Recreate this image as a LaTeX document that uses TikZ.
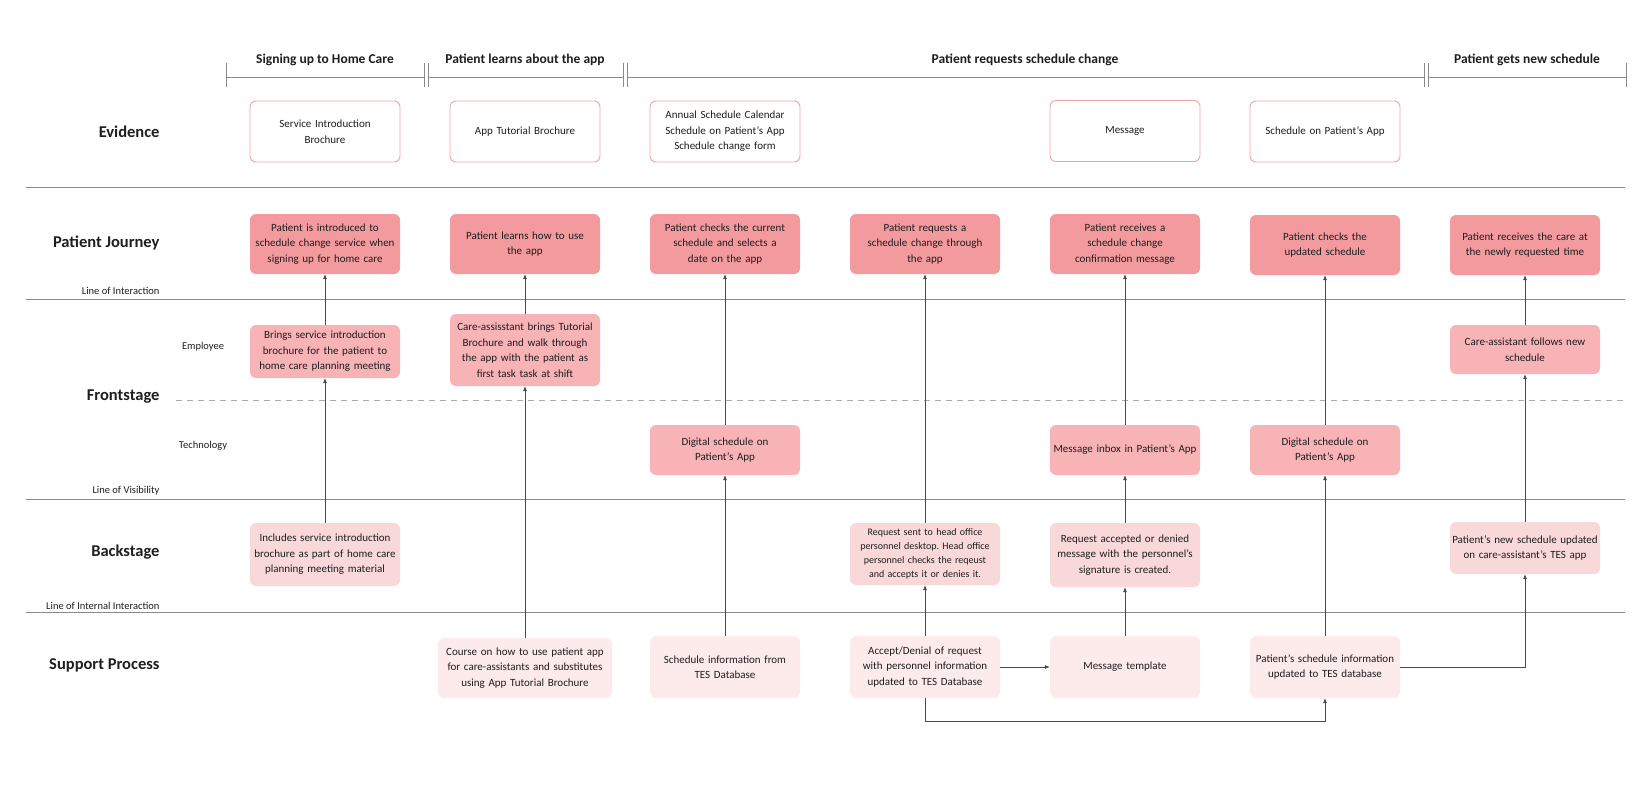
\documentclass[tikz,border=0pt]{standalone}
\usepackage{fontspec}
\setmainfont{Carlito}
\usetikzlibrary{arrows.meta}
\definecolor{jour}{HTML}{F39A9E}
\definecolor{empc}{HTML}{F7B3B6}
\definecolor{backc}{HTML}{F9D8DA}
\definecolor{suppc}{HTML}{FDEAEB}
\definecolor{evb}{HTML}{F2A3A8}
\definecolor{rulec}{HTML}{8A8A8A}
\definecolor{dashc}{HTML}{ABABAB}
\definecolor{txt}{HTML}{1E1E1E}
\definecolor{arrc}{HTML}{4A4A4A}
\frenchspacing
\begin{document}
\begin{tikzpicture}[x=1pt,y=-1pt,
  box/.style={rounded corners=6pt, minimum width=150pt, text width=148pt, align=center,
    font=\fontsize{11}{15.5}\selectfont, text=txt, inner xsep=1pt, inner ysep=3pt},
  evid/.style={box, draw=evb, line width=0.9pt, fill=white},
  jbox/.style={box, fill=jour},
  ebox/.style={box, fill=empc},
  bbox/.style={box, fill=backc},
  sbox/.style={box, fill=suppc},
  rowlab/.style={anchor=east, font=\bfseries\fontsize{16.5}{18}\selectfont, text=txt},
  linelab/.style={anchor=east, font=\fontsize{10.5}{12}\selectfont, text=txt},
  sublab/.style={font=\fontsize{10.5}{12}\selectfont, text=txt},
  phase/.style={font=\bfseries\fontsize{13.5}{15}\selectfont, text=txt},
  rulel/.style={draw=rulec, line width=0.8pt},
  arr/.style={draw=arrc, line width=0.6pt, -{Latex[length=5pt,width=4pt]}}
]
\useasboundingbox (0,0) rectangle (1650,800);

% header brackets
\foreach \a/\b in {226/424, 428/623, 627/1424, 1428/1626}{
  \draw[rulel] (\a,77) -- (\b,77);
  \draw[rulel] (\a,63) -- (\a,87);
  \draw[rulel] (\b,63) -- (\b,87);
}
\node[phase] (p1) at (325,60) {Signing up to Home Care};
\node[phase] (p2) at (525,60) {Patient learns about the app};
\node[phase] (p3) at (1025,60) {Patient requests schedule change};
\node[phase] (p4) at (1527,60) {Patient gets new schedule};

% horizontal lines
\draw[rulel] (26,187) -- (1625,187);
\draw[rulel] (26,299) -- (1625,299);
\draw[draw=dashc, line width=0.8pt, dash pattern=on 6pt off 5pt] (176,400) -- (1625,400);
\draw[rulel] (26,499) -- (1625,499);
\draw[rulel] (26,612) -- (1625,612);

% row labels
\node[rowlab] (lEv) at (163,132) {Evidence};
\node[rowlab] (lPJ) at (163,243) {Patient Journey};
\node[linelab] (lLI) at (163,291) {Line of Interaction};
\node[sublab] (lEm) at (203,347) {Employee};
\node[rowlab] (lFr) at (163,397) {Frontstage};
\node[sublab] (lTe) at (203,446) {Technology};
\node[linelab] (lLV) at (163,491) {Line of Visibility};
\node[rowlab] (lBa) at (163,552) {Backstage};
\node[linelab] (lLII) at (163,606) {Line of Internal Interaction};
\node[rowlab] (lSP) at (163,665) {Support Process};

% evidence
\node[evid, minimum height=61pt] (v1) at (325,131.5) {Service Introduction\\Brochure};
\node[evid, minimum height=61pt] (v2) at (525,131.5) {App Tutorial Brochure};
\node[evid, minimum height=61pt] (v3) at (725,131.5) {Annual Schedule Calendar\\Schedule on Patient’s App\\Schedule change form};
\node[evid, minimum height=61pt] (v5) at (1125,131) {Message};
\node[evid, minimum height=61pt] (v6) at (1325,131.5) {Schedule on Patient’s App};

% patient journey
\node[jbox, minimum height=60pt] (j1) at (325,244) {Patient is introduced to\\schedule change service when\\signing up for home care};
\node[jbox, minimum height=60pt] (j2) at (525,244) {Patient learns how to use\\the app};
\node[jbox, minimum height=60pt] (j3) at (725,244) {Patient checks the current\\schedule and selects a\\date on the app};
\node[jbox, minimum height=60pt] (j4) at (925,244) {Patient requests a\\schedule change through\\the app};
\node[jbox, minimum height=60pt] (j5) at (1125,244) {Patient receives a\\schedule change\\confirmation message};
\node[jbox, minimum height=60pt] (j6) at (1325,245) {Patient checks the\\updated schedule};
\node[jbox, minimum height=60pt] (j7) at (1525,245) {Patient receives the care at\\the newly requested time};

% employee
\node[ebox, minimum height=53pt] (e1) at (325,351.5) {Brings service introduction\\brochure for the patient to\\home care planning meeting};
\node[ebox, minimum height=72pt] (e2) at (525,350) {Care-assisstant brings Tutorial\\Brochure and walk through\\the app with the patient as\\first task task at shift};
\node[ebox, minimum height=49pt] (e7) at (1525,349.5) {Care-assistant follows new\\schedule};

% technology
\node[ebox, minimum height=50pt] (t3) at (725,450) {Digital schedule on\\Patient’s App};
\node[ebox, minimum height=50pt] (t5) at (1125,450) {Message inbox in Patient’s App};
\node[ebox, minimum height=50pt] (t6) at (1325,450) {Digital schedule on\\Patient’s App};

% backstage
\node[bbox, minimum height=63pt] (b1) at (325,554.5) {Includes service introduction\\brochure as part of home care\\planning meeting material};
\node[bbox, minimum height=62pt, font=\fontsize{10}{14}\selectfont] (b4) at (925,554) {Request sent to head office\\personnel desktop. Head office\\personnel checks the reqeust\\and accepts it or denies it.};
\node[bbox, minimum height=64pt] (b5) at (1125,555) {Request accepted or denied\\message with the personnel’s\\signature is created.};
\node[bbox, minimum height=52pt] (b7) at (1525,548) {Patient’s new schedule updated\\on care-assistant’s TES app};

% support
\node[sbox, minimum height=60pt, minimum width=174pt, text width=172pt] (s2) at (525,668) {Course on how to use patient app\\for care-assistants and substitutes\\using App Tutorial Brochure};
\node[sbox, minimum height=62pt] (s3) at (725,667) {Schedule information from\\TES Database};
\node[sbox, minimum height=62pt] (s4) at (925,667) {Accept/Denial of request\\with personnel information\\updated to TES Database};
\node[sbox, minimum height=62pt] (s5) at (1125,667) {Message template};
\node[sbox, minimum height=62pt] (s6) at (1325,667) {Patient’s schedule information\\updated to TES database};

% connectors
\draw[arr] (b1.north) -- (e1.south);
\draw[arr] (e1.north) -- (j1.south);
\draw[arr] (s2.north) -- (e2.south);
\draw[arr] (e2.north) -- (j2.south);
\draw[arr] (s3.north) -- (t3.south);
\draw[arr] (t3.north) -- (j3.south);
\draw[arr] (s4.north) -- (b4.south);
\draw[arr] (b4.north) -- (j4.south);
\draw[arr] (s5.north) -- (b5.south);
\draw[arr] (b5.north) -- (t5.south);
\draw[arr] (t5.north) -- (j5.south);
\draw[arr] (s6.north) -- (t6.south);
\draw[arr] (t6.north) -- (j6.south);
\draw[arr] (b7.north) -- (e7.south);
\draw[arr] (e7.north) -- (j7.south);
\draw[arr] (s4.east) -- (s5.west);
\coordinate (c1) at (925,721);
\coordinate (c2) at (1325,721);
\draw[arr] (s4.south) -- (c1) -- (c2) -- (s6.south);
\draw[arr] (s6.east) -| (b7.south);
\end{tikzpicture}
\end{document}
